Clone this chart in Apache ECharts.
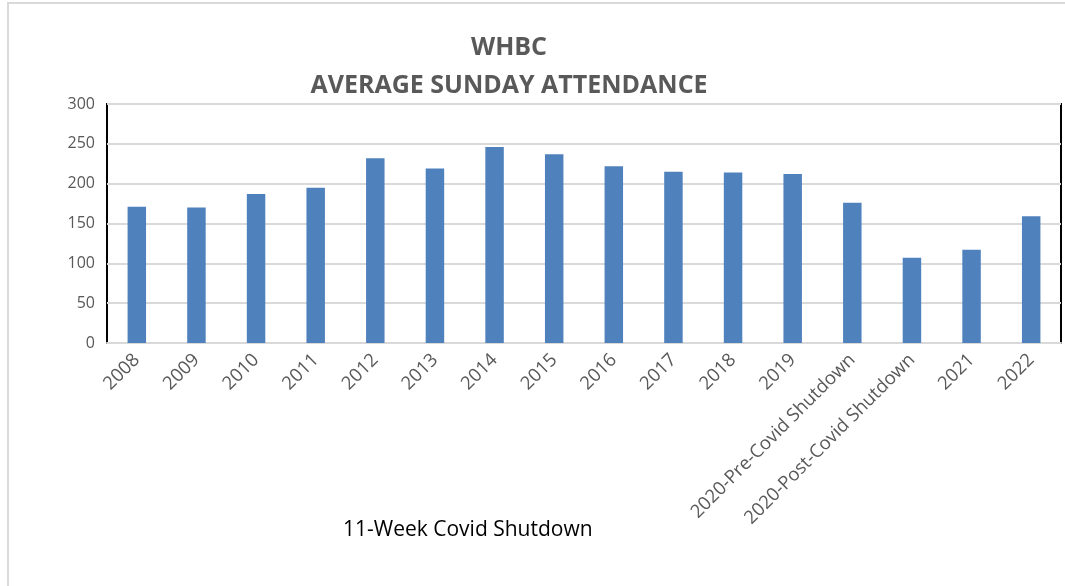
<!DOCTYPE html>
<html><head><meta charset="utf-8">
<script src="https://cdn.jsdelivr.net/npm/echarts@6/dist/echarts.min.js"></script>
<style>html,body{margin:0;padding:0;background:#fff}#c{width:1065px;height:586px}</style>
</head><body><div id="c"></div>
<script>
const titleLines = ['WHBC', 'AVERAGE SUNDAY ATTENDANCE'];
const categories = ['2008','2009','2010','2011','2012','2013','2014','2015','2016','2017','2018','2019','2020-Pre-Covid Shutdown','2020-Post-Covid Shutdown','2021','2022'];
const attendance = [171,170,187,195,232,219,246,237,222,215,214,212,176,107,117,159];
const yTicks = {min:0, max:300, interval:50};
const note = '11-Week Covid Shutdown';

const chart = echarts.init(document.getElementById('c'), null, {renderer:'canvas'});
const FONT = 'Open Sans';
chart.setOption({
  backgroundColor:'#fff',
  animation:false,
  title:{
    text: titleLines.join('\n'),
    left: 504, top: 24, textAlign:'center',
    textStyle:{fontFamily:FONT, fontSize:25, fontWeight:'bold', color:'#595959', lineHeight:38}
  },
  grid:{left:107, right:4, top:104, bottom:243, show:true, borderColor:'#000', borderWidth:2, backgroundColor:'transparent'},
  xAxis:{
    type:'category', data:categories,
    axisLine:{show:true, lineStyle:{color:'#d9d9d9', width:2}},
    axisTick:{show:false},
    axisLabel:{rotate:45, interval:0, fontFamily:FONT, fontSize:18.5, color:'#595959', margin:14}
  },
  yAxis:{
    type:'value', min:yTicks.min, max:yTicks.max, interval:yTicks.interval,
    axisLine:{show:false}, axisTick:{show:false},
    axisLabel:{fontFamily:FONT, fontSize:16, color:'#595959', margin:12},
    splitLine:{lineStyle:{color:'#d9d9d9', width:2}}
  },
  series:[{type:'bar', data:attendance, barWidth:'31%', itemStyle:{color:'#4f81bd'}}],
  graphic:[
    {type:'line', z:-1, shape:{x1:7, y1:3, x2:1065, y2:3}, style:{stroke:'#d9d9d9', lineWidth:2}},
    {type:'line', z:-1, shape:{x1:8, y1:3, x2:8, y2:586}, style:{stroke:'#d9d9d9', lineWidth:2}},
    {type:'text', left:343, top:520, style:{text:note, font:'21px "Open Sans"', fill:'#000'}}
  ]
});
</script></body></html>
